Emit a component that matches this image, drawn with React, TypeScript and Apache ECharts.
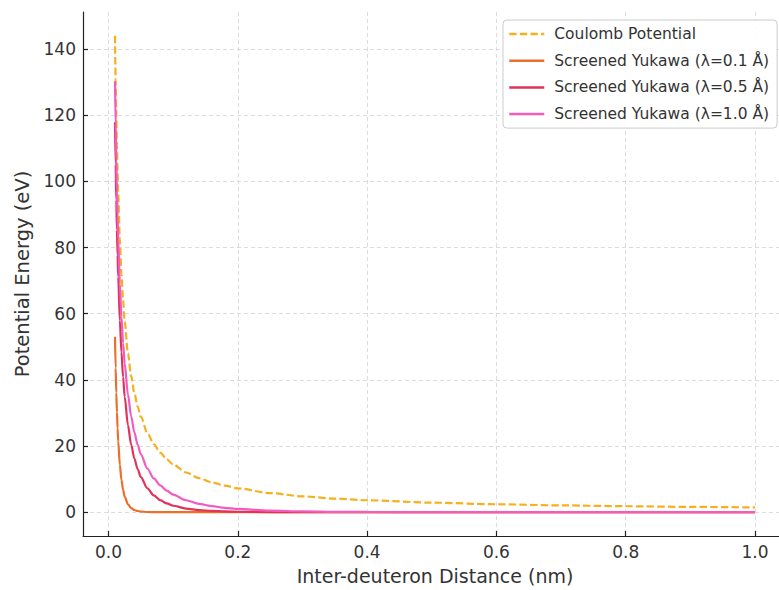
import React, { useEffect, useRef } from "react";
import * as echarts from "echarts";

const xValues = [0.01, 0.011, 0.012, 0.013, 0.014, 0.015, 0.0175, 0.02, 0.0225, 0.025, 0.03, 0.035, 0.04, 0.045, 0.05, 0.06, 0.07, 0.08, 0.09, 0.1, 0.12, 0.14, 0.16, 0.18, 0.2, 0.25, 0.3, 0.35, 0.4, 0.5, 0.6, 0.7, 0.8, 0.9, 1.0];
const coulomb = [144, 130.9, 120, 110.8, 102.9, 96, 82.3, 72, 64, 57.6, 48, 41.1, 36, 32, 28.8, 24, 20.6, 18, 16, 14.4, 12, 10.3, 9, 8, 7.2, 5.76, 4.8, 4.11, 3.6, 2.88, 2.4, 2.06, 1.8, 1.6, 1.44];
const yukawa01 = [53.0, 43.6, 36.1, 30.2, 25.4, 21.4, 14.3, 9.74, 6.75, 4.73, 2.39, 1.24, 0.66, 0.36, 0.19, 0.06, 0.02, 0.006, 0.002, 0.001, 0, 0, 0, 0, 0, 0, 0, 0, 0, 0, 0, 0, 0, 0, 0];
const yukawa05 = [117.9, 105.1, 94.4, 85.4, 77.7, 71.1, 58.0, 48.3, 40.8, 34.9, 26.3, 20.4, 16.2, 13.0, 10.6, 7.23, 5.07, 3.63, 2.64, 1.95, 1.09, 0.63, 0.37, 0.22, 0.13, 0.04, 0.01, 0.004, 0.001, 0, 0, 0, 0, 0, 0];
const yukawa10 = [130.3, 117.3, 106.4, 97.3, 89.4, 82.6, 69.1, 59.0, 51.1, 44.9, 35.6, 29.0, 24.1, 20.4, 17.5, 13.2, 10.2, 8.09, 6.51, 5.30, 3.61, 2.54, 1.82, 1.32, 0.97, 0.47, 0.24, 0.12, 0.07, 0.02, 0.006, 0.002, 0.001, 0, 0];

const xTicks = [0, 0.2, 0.4, 0.6, 0.8, 1.0];
const yTicks = [0, 20, 40, 60, 80, 100, 120, 140];

const seriesNames = [
  "Coulomb Potential",
  "Screened Yukawa (λ=0.1 Å)",
  "Screened Yukawa (λ=0.5 Å)",
  "Screened Yukawa (λ=1.0 Å)",
];
const seriesColors = ["#f5b01e", "#ea6f2c", "#e2325a", "#f25cbf"];
const seriesValues = [coulomb, yukawa01, yukawa05, yukawa10];

const FONT = "DejaVu Sans";

export default function App() {
  const ref = useRef<HTMLDivElement>(null);
  useEffect(() => {
    if (!ref.current) return;
    const chart = echarts.init(ref.current, null, { renderer: "svg" });
    const series = seriesNames.map((name, i) => ({
      name,
      type: "line",
      data: xValues.map((x, j) => [x, seriesValues[i][j]]),
      symbol: "none",
      showSymbol: false,
      smooth: 0.3,
      smoothMonotone: "x",
      z: 2 + i,
      lineStyle: {
        color: seriesColors[i],
        width: 2.2,
        type: i === 0 ? [7.4, 3.2] : "solid",
      },
      itemStyle: { color: seriesColors[i] },
    }));
    chart.setOption({
      animation: false,
      backgroundColor: "#ffffff",
      textStyle: { fontFamily: FONT },
      grid: { left: 83, top: 12, right: 13, bottom: 52, containLabel: false },
      legend: {
        data: seriesNames,
        orient: "vertical",
        left: 503,
        top: 20,
        padding: [6, 8, 6, 5],
        itemGap: 10.7,
        itemWidth: 35,
        itemHeight: 14,
        itemStyle: { opacity: 0 },
        lineStyle: { width: 2.5 },
        borderColor: "#cccccc",
        borderWidth: 1,
        borderRadius: 4,
        backgroundColor: "rgba(255,255,255,0.85)",
        textStyle: { fontFamily: FONT, fontSize: 15.5, color: "#333", padding: [0, 0, 0, 5] },
      },
      xAxis: {
        type: "value",
        min: -0.0395,
        max: 1.0495,
        name: "Inter-deuteron Distance (nm)",
        nameLocation: "middle",
        nameGap: 30,
        nameTextStyle: { fontFamily: FONT, fontSize: 19, color: "#333" },
        axisLine: { show: true, onZero: false, lineStyle: { color: "#222", width: 1.2 } },
        axisTick: { show: true, inside: true, length: 5, customValues: xTicks, lineStyle: { color: "#222", width: 1.2 } },
        axisLabel: {
          customValues: xTicks,
          fontFamily: FONT,
          fontSize: 17,
          color: "#333",
          margin: 7,
          formatter: (v: number) => v.toFixed(1),
        },
        splitLine: { show: true, lineStyle: { color: "#d3d3d3", type: [4, 3], width: 0.8 } },
      },
      yAxis: {
        type: "value",
        min: -7.2,
        max: 151.2,
        name: "Potential Energy (eV)",
        nameLocation: "middle",
        nameGap: 50,
        nameTextStyle: { fontFamily: FONT, fontSize: 19.5, color: "#333" },
        axisLine: { show: true, onZero: false, lineStyle: { color: "#222", width: 1.2 } },
        axisTick: { show: true, inside: true, length: 5, customValues: yTicks, lineStyle: { color: "#222", width: 1.2 } },
        axisLabel: {
          customValues: yTicks,
          fontFamily: FONT,
          fontSize: 17,
          color: "#333",
          margin: 7,
          formatter: (v: number) => String(Math.round(v)),
        },
        splitLine: { show: true, lineStyle: { color: "#d3d3d3", type: [4, 3], width: 0.8 } },
      },
      series,
    });
    return () => chart.dispose();
  }, []);
  return (
    <div style={{ position: "fixed", left: 0, top: 0, width: 779, height: 590, overflow: "hidden", background: "#fff" }}>
      <div ref={ref} style={{ width: 800, height: 590 }} />
    </div>
  );
}
